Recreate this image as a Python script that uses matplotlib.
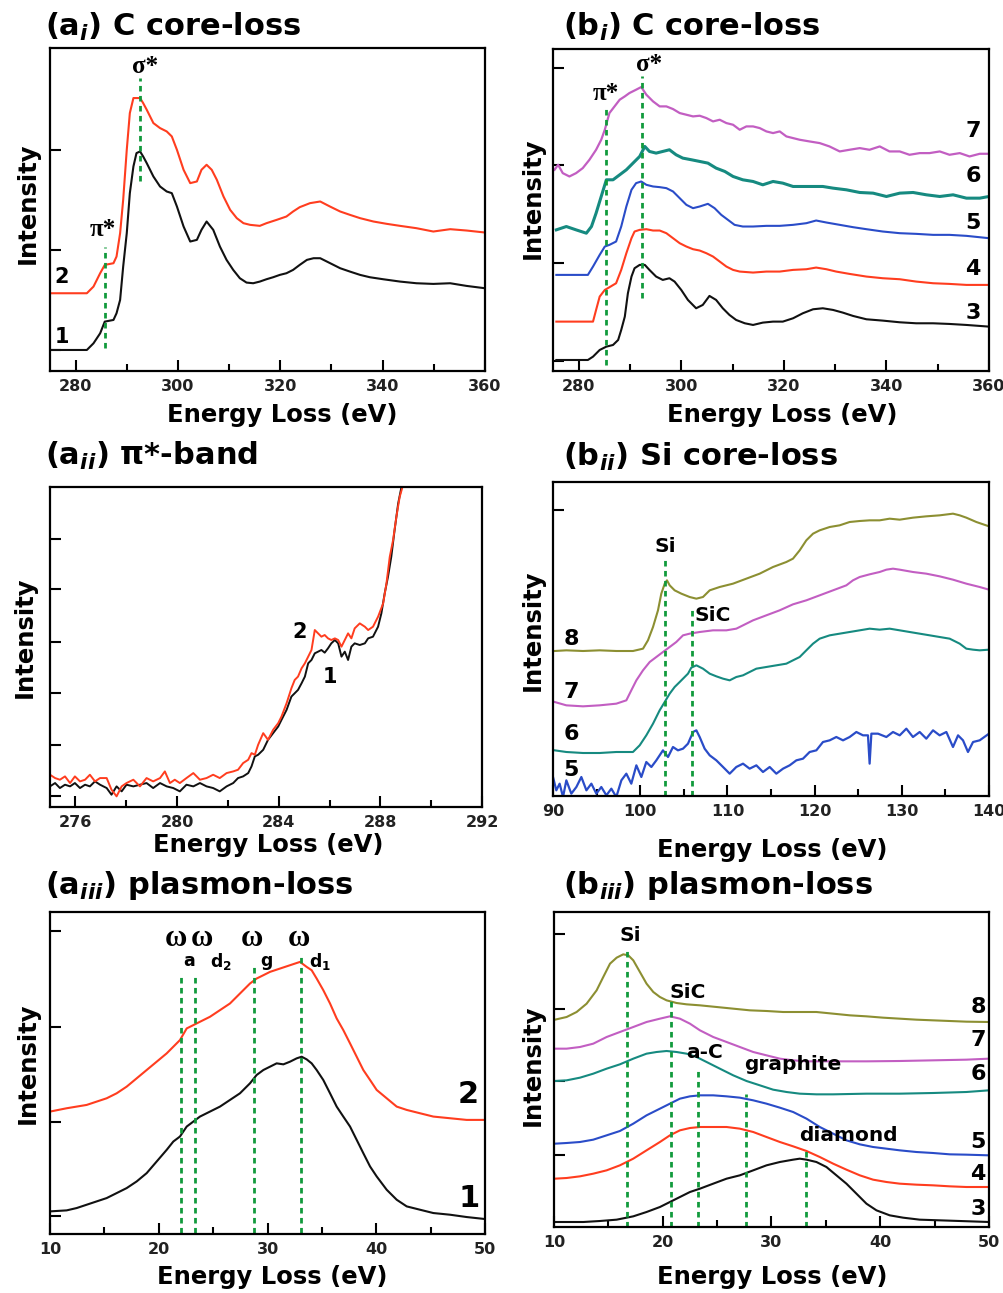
import matplotlib
matplotlib.use("Agg")
import matplotlib.pyplot as plt
from matplotlib.ticker import MultipleLocator, NullLocator

plt.rcParams['font.family'] = ['DejaVu Sans']
plt.rcParams['font.weight'] = 'bold'
plt.rcParams['mathtext.fontset'] = 'custom'
plt.rcParams['mathtext.rm'] = 'DejaVu Sans:bold'
plt.rcParams['mathtext.it'] = 'DejaVu Sans:italic:bold'
plt.rcParams['mathtext.bf'] = 'DejaVu Sans:bold'

# ---- (a_i) C core-loss, spectra 1 and 2 (energy in eV, intensity in a.u.)
E_ai_1 = [275.0, 282.2, 283.5, 284.8, 285.7, 287.4, 288.0, 288.7, 289.3, 290.0,
          290.6, 291.3, 291.9, 292.6, 293.2, 293.9, 295.2, 296.5, 297.8, 298.8,
          299.8, 301.1, 302.4, 303.7, 304.6, 305.6, 306.9, 308.2, 309.5, 310.8,
          312.1, 313.4, 314.7, 316.0, 317.3, 318.6, 319.9, 321.2, 322.5, 323.8,
          325.2, 326.5, 327.8, 329.1, 330.4, 331.7, 333.6, 335.6, 337.5, 340.1,
          343.4, 346.6, 349.9, 353.2, 356.4, 360.0]
I_ai_1 = [6.3, 6.3, 8.3, 11.3, 14.8, 15.3, 17.3, 21.3, 31.3, 41.3,
          53.3, 61.3, 65.3, 65.8, 64.3, 62.3, 58.3, 55.3, 53.8, 53.3,
          49.3, 43.3, 38.8, 39.3, 42.3, 44.8, 42.3, 37.3, 33.3, 30.3,
          27.8, 26.5, 26.3, 26.8, 27.5, 28.1, 28.8, 29.3, 30.3, 31.8,
          33.3, 33.8, 33.8, 32.8, 31.8, 30.8, 29.8, 28.8, 28.1, 27.5,
          26.8, 26.3, 26.1, 26.3, 25.5, 24.8]
E_ai_2 = [275.0, 282.2, 283.5, 284.8, 285.7, 287.4, 288.0, 288.7, 289.3, 290.0,
          290.6, 291.3, 292.6, 293.2, 293.9, 295.2, 296.5, 297.8, 298.8, 299.8,
          301.1, 302.4, 303.7, 304.6, 305.6, 306.6, 307.6, 308.9, 310.2, 311.5,
          312.8, 314.1, 316.0, 317.3, 319.3, 321.2, 322.5, 323.8, 325.8, 327.8,
          329.7, 331.7, 333.6, 335.6, 338.2, 340.8, 343.4, 346.6, 349.9, 353.2,
          356.4, 360.0]
I_ai_2 = [23.3, 23.3, 25.3, 29.3, 31.8, 32.3, 34.3, 41.3, 51.3, 66.3,
          77.3, 81.8, 81.8, 80.3, 78.3, 74.3, 72.8, 71.8, 70.3, 66.3,
          60.3, 56.3, 56.8, 60.3, 61.8, 60.3, 57.3, 52.3, 48.3, 45.8,
          44.3, 43.8, 43.5, 44.3, 45.3, 46.3, 47.8, 49.1, 50.3, 50.8,
          49.3, 47.8, 46.8, 45.8, 44.8, 44.1, 43.5, 42.8, 41.8, 42.5,
          42.1, 41.5]

# ---- (b_i) C core-loss, spectra 3-7
E_bi_3 = [275.65, 281.8, 282.8, 284.1, 285.4, 286.7, 287.7, 288.3, 289.0, 289.6,
          290.3, 290.9, 291.9, 292.9, 293.8, 295.1, 296.4, 297.7, 298.7, 300.0,
          301.3, 302.9, 304.2, 305.5, 306.8, 308.1, 309.4, 310.7, 312.4, 314.0,
          315.9, 317.9, 319.8, 321.8, 323.7, 325.7, 327.6, 329.6, 331.5, 333.5,
          336.1, 339.3, 342.6, 345.8, 349.1, 352.3, 355.6, 360.0]
I_bi_3 = [3.3, 3.3, 4.3, 6.3, 7.3, 7.8, 9.3, 12.3, 16.3, 23.3,
          28.3, 30.8, 31.8, 31.8, 30.3, 28.3, 27.3, 27.8, 26.8, 24.3,
          21.3, 18.8, 19.8, 22.5, 21.3, 18.8, 16.8, 15.3, 14.3, 13.8,
          14.5, 14.8, 14.8, 15.8, 17.3, 18.5, 18.8, 18.3, 17.5, 16.5,
          15.5, 15.1, 14.6, 14.3, 14.3, 14.1, 13.8, 13.3]
E_bi_4 = [275.65, 282.8, 283.4, 284.1, 285.1, 286.0, 287.3, 288.3, 289.3, 290.3,
          290.9, 291.9, 293.2, 294.5, 295.8, 297.1, 298.4, 299.7, 301.0, 302.3,
          303.6, 304.9, 306.2, 307.5, 308.8, 310.1, 311.4, 314.0, 316.6, 319.2,
          321.8, 324.4, 326.3, 328.3, 330.2, 332.8, 336.1, 339.3, 342.6, 345.8,
          349.1, 352.3, 355.6, 360.0]
I_bi_4 = [14.8, 14.8, 18.3, 22.3, 24.3, 25.1, 26.3, 30.3, 35.3, 39.8,
          41.8, 42.3, 42.5, 42.1, 42.1, 41.3, 39.8, 38.3, 37.3, 36.5,
          36.1, 35.3, 34.3, 32.8, 31.3, 30.3, 29.8, 29.5, 29.8, 29.8,
          30.3, 30.5, 31.0, 30.5, 29.8, 29.1, 28.3, 27.8, 27.5, 26.8,
          26.3, 26.1, 25.8, 25.8]
E_bi_5 = [275.65, 281.8, 282.8, 284.1, 285.1, 286.0, 287.3, 288.3, 289.3, 290.3,
          291.2, 292.2, 293.2, 294.5, 295.8, 297.1, 298.4, 299.7, 301.0, 302.3,
          303.6, 305.2, 306.5, 307.8, 309.1, 310.4, 312.0, 314.0, 316.6, 319.2,
          321.8, 324.4, 326.3, 328.3, 330.9, 333.5, 336.1, 339.3, 342.6, 345.8,
          349.1, 352.3, 355.6, 360.0]
I_bi_5 = [28.8, 28.8, 31.3, 34.8, 37.3, 37.8, 38.8, 43.3, 49.3, 54.3,
          56.3, 56.8, 55.8, 55.3, 55.1, 54.8, 53.8, 51.8, 49.8, 48.8,
          49.3, 50.1, 48.8, 46.8, 45.3, 43.8, 43.3, 43.3, 43.5, 43.5,
          43.8, 44.3, 45.1, 44.5, 43.8, 43.1, 42.5, 41.8, 41.3, 41.1,
          40.8, 40.8, 40.5, 39.8]
E_bi_6 = [275.65, 277.6, 279.5, 281.5, 282.5, 283.4, 284.4, 285.4, 286.7, 288.0,
          289.3, 290.6, 291.9, 292.9, 293.8, 295.1, 296.4, 297.7, 299.0, 300.3,
          302.0, 303.6, 305.2, 306.8, 308.5, 310.1, 312.0, 314.0, 315.9, 317.9,
          319.8, 321.8, 323.7, 325.7, 327.6, 329.6, 332.2, 334.8, 337.4, 340.0,
          342.6, 345.2, 347.8, 350.4, 353.0, 355.6, 358.2, 360.0]
I_bi_6 = [42.3, 43.3, 42.3, 41.3, 43.3, 47.3, 52.3, 57.3, 57.3, 58.8,
          60.3, 62.3, 64.3, 67.3, 65.8, 65.3, 65.8, 66.3, 64.8, 63.8,
          63.3, 62.8, 62.3, 60.8, 59.8, 58.3, 57.3, 56.8, 55.8, 56.8,
          56.3, 55.3, 55.3, 55.3, 55.3, 54.8, 54.3, 53.5, 53.3, 52.3,
          53.3, 53.5, 52.8, 52.3, 52.8, 51.8, 51.8, 52.3]
E_bi_7 = [275.3, 276.0, 276.9, 278.2, 279.5, 280.8, 282.1, 283.4, 284.4, 285.1,
          286.0, 287.0, 288.0, 289.0, 289.9, 291.2, 292.2, 293.2, 294.5, 295.8,
          297.1, 298.4, 299.7, 301.0, 302.3, 303.6, 304.9, 306.2, 307.5, 308.8,
          310.1, 311.4, 312.7, 314.0, 315.3, 316.6, 317.9, 319.2, 320.5, 321.8,
          323.1, 325.0, 327.0, 328.9, 330.9, 332.8, 334.8, 336.7, 338.7, 340.6,
          342.6, 344.5, 346.5, 348.4, 350.4, 352.3, 354.3, 356.2, 358.2, 360.0]
I_bi_7 = [60.3, 61.8, 59.3, 58.3, 59.3, 60.8, 63.3, 66.3, 69.3, 72.3,
          77.3, 79.3, 81.3, 82.3, 83.3, 84.3, 85.1, 82.8, 80.8, 79.3,
          79.3, 78.5, 77.3, 76.8, 76.3, 76.5, 75.8, 74.8, 75.3, 74.3,
          73.8, 72.3, 73.3, 73.3, 72.8, 71.8, 71.3, 71.8, 70.3, 69.8,
          69.3, 68.8, 68.3, 67.3, 65.8, 66.3, 66.8, 66.3, 67.3, 65.8,
          65.8, 64.8, 65.3, 65.3, 65.8, 64.8, 65.3, 64.3, 65.1, 65.1]

# ---- (a_ii) pi*-band, spectra 1 and 2
E_aii_1 = [275.00, 275.20, 275.39, 275.59, 275.79, 275.98, 276.18, 276.38, 276.57, 276.77,
           276.97, 277.23, 277.42, 277.62, 277.82, 278.01, 278.28, 278.54, 278.80, 279.06,
           279.33, 279.59, 279.85, 280.11, 280.37, 280.64, 280.90, 281.16, 281.42, 281.68,
           281.95, 282.21, 282.40, 282.60, 282.80, 282.93, 283.06, 283.19, 283.39, 283.58,
           283.78, 283.98, 284.11, 284.31, 284.50, 284.63, 284.76, 284.90, 285.03, 285.16,
           285.29, 285.42, 285.55, 285.68, 285.81, 285.94, 286.07, 286.21, 286.34, 286.47,
           286.60, 286.73, 286.86, 286.99, 287.19, 287.39, 287.52, 287.71, 287.91, 288.04,
           288.17, 288.30, 288.43, 288.56, 288.70, 288.83]
I_aii_1 = [6.2, 7.2, 5.7, 6.7, 6.2, 7.2, 5.7, 6.7, 6.2, 7.7,
           6.7, 5.7, 3.7, 6.2, 4.7, 6.7, 6.2, 6.7, 7.2, 5.7,
           7.2, 6.2, 5.7, 4.7, 6.7, 6.2, 7.2, 6.2, 5.7, 4.7,
           6.2, 7.2, 8.7, 9.2, 10.2, 12.2, 15.2, 15.7, 17.2, 20.2,
           22.2, 24.2, 26.2, 29.2, 33.2, 34.2, 35.2, 37.2, 39.2, 43.2,
           44.2, 46.2, 46.7, 47.2, 46.4, 47.7, 49.2, 50.2, 49.2, 45.2,
           46.7, 44.2, 48.2, 49.2, 48.7, 49.2, 50.7, 51.2, 54.2, 58.2,
           64.2, 69.2, 75.2, 83.2, 91.2, 96.2]
E_aii_2 = [275.00, 275.20, 275.39, 275.59, 275.79, 275.98, 276.18, 276.38, 276.57, 276.77,
           276.97, 277.23, 277.42, 277.62, 277.82, 278.01, 278.28, 278.54, 278.80, 279.06,
           279.33, 279.52, 279.72, 279.91, 280.11, 280.37, 280.64, 280.90, 281.16, 281.42,
           281.68, 281.95, 282.21, 282.40, 282.60, 282.80, 282.93, 283.06, 283.19, 283.39,
           283.58, 283.78, 283.98, 284.11, 284.31, 284.50, 284.63, 284.76, 284.90, 285.03,
           285.16, 285.29, 285.42, 285.55, 285.68, 285.81, 285.94, 286.07, 286.21, 286.34,
           286.47, 286.60, 286.73, 286.86, 286.99, 287.19, 287.39, 287.52, 287.71, 287.91,
           288.11, 288.24, 288.37, 288.50, 288.63, 288.76, 288.87]
I_aii_2 = [9.7, 8.7, 8.2, 9.2, 7.2, 9.2, 7.7, 8.2, 9.7, 7.7,
           8.7, 8.7, 5.2, 3.2, 6.2, 7.2, 8.2, 6.2, 8.7, 7.7,
           8.7, 10.7, 7.2, 8.2, 7.2, 8.7, 10.2, 8.2, 8.7, 9.7,
           8.7, 10.2, 10.7, 11.2, 13.2, 14.2, 16.2, 15.7, 18.7, 22.2,
           20.2, 23.2, 25.2, 27.2, 31.2, 35.7, 38.2, 39.2, 41.7, 43.2,
           45.2, 47.2, 53.2, 52.2, 51.2, 51.7, 50.7, 50.2, 50.7, 50.2,
           48.2, 50.2, 52.2, 50.7, 53.7, 55.2, 54.2, 53.2, 54.2, 57.2,
           61.2, 67.2, 75.2, 80.2, 87.2, 93.2, 96.2]

# ---- (b_ii) Si core-loss, spectra 5-8
E_bii_8 = [90.19, 91.53, 93.44, 95.35, 97.26, 99.17, 100.32, 100.89, 101.47, 102.04,
           102.42, 102.81, 103.07, 103.38, 103.95, 104.72, 105.67, 106.44, 107.20, 107.97,
           109.11, 110.64, 112.17, 113.70, 115.23, 116.76, 117.52, 118.29, 119.05, 119.82,
           120.58, 121.73, 122.87, 124.02, 125.17, 126.31, 127.46, 128.61, 129.76, 131.28,
           132.81, 134.34, 135.87, 136.64, 137.40, 138.55, 140.0]
I_bii_8 = [43.5, 43.7, 43.5, 43.7, 43.5, 43.5, 44.2, 46.7, 50.7, 55.7,
           60.7, 63.7, 64.7, 63.2, 61.7, 60.7, 59.7, 59.2, 59.7, 61.7,
           62.7, 63.7, 65.2, 66.7, 68.7, 70.2, 71.2, 73.7, 76.7, 78.7,
           79.7, 80.7, 81.2, 82.2, 82.5, 82.7, 82.7, 83.2, 82.9, 83.5,
           83.9, 84.2, 84.7, 84.2, 83.5, 82.2, 80.9]
E_bii_7 = [90.19, 91.53, 93.44, 95.35, 97.26, 98.41, 98.98, 99.56, 100.32, 101.09,
           101.85, 102.61, 103.38, 104.14, 104.91, 105.67, 106.82, 108.35, 109.88, 111.02,
           111.79, 112.94, 114.46, 115.99, 117.52, 119.05, 120.58, 122.11, 123.64, 124.40,
           125.17, 126.31, 127.46, 128.23, 128.99, 129.76, 131.28, 132.81, 134.34, 135.87,
           137.40, 138.93, 140.0]
I_bii_7 = [28.2, 27.2, 26.9, 27.2, 27.7, 28.7, 31.7, 34.7, 37.7, 40.2,
           41.7, 43.2, 44.7, 46.2, 48.2, 48.7, 49.2, 49.7, 49.7, 50.2,
           51.2, 52.7, 54.2, 55.7, 57.5, 58.7, 60.2, 61.7, 63.2, 64.7,
           65.7, 66.5, 67.2, 67.9, 68.2, 67.9, 67.2, 66.7, 65.9, 64.9,
           63.7, 62.7, 61.9]
E_bii_6 = [90.19, 91.53, 93.44, 95.35, 97.26, 99.17, 99.94, 100.70, 101.47, 102.23,
           102.81, 103.38, 103.95, 104.53, 105.10, 105.48, 105.86, 106.44, 107.20, 107.97,
           108.73, 109.50, 110.26, 111.02, 111.79, 112.55, 113.32, 114.46, 115.61, 116.76,
           117.52, 118.29, 119.05, 119.82, 120.58, 121.73, 122.87, 124.02, 125.17, 126.31,
           127.46, 128.61, 129.76, 130.90, 132.05, 133.20, 134.34, 135.49, 136.64, 137.40,
           138.17, 138.93, 140.0]
I_bii_6 = [13.7, 13.2, 12.9, 12.9, 13.2, 13.2, 15.2, 18.2, 21.7, 25.7,
           28.2, 30.7, 32.7, 34.2, 35.7, 36.7, 38.5, 39.2, 38.2, 36.7,
           35.9, 35.2, 34.7, 35.7, 36.2, 37.2, 38.2, 38.7, 39.2, 39.7,
           40.7, 41.7, 43.7, 45.7, 47.2, 48.2, 48.7, 49.2, 49.7, 50.2,
           49.9, 50.2, 49.7, 49.2, 48.7, 48.2, 47.7, 47.2, 45.7, 44.2,
           43.9, 43.7, 43.9]
E_bii_5 = [90.00, 90.38, 90.76, 91.15, 91.53, 92.10, 92.68, 93.25, 93.83, 94.40,
           94.97, 95.54, 96.12, 96.69, 97.26, 97.84, 98.41, 98.98, 99.56, 100.13,
           100.70, 101.28, 101.85, 102.61, 103.19, 103.76, 104.33, 104.91, 105.48, 106.06,
           106.44, 106.82, 107.39, 107.97, 108.73, 109.50, 110.26, 111.02, 111.79, 112.55,
           113.32, 114.08, 114.85, 115.61, 116.38, 117.14, 117.91, 118.67, 119.43, 120.20,
           120.96, 121.73, 122.49, 123.26, 124.02, 124.79, 125.55, 126.12, 126.31, 126.51,
           127.27, 128.23, 128.99, 129.76, 130.52, 131.28, 132.05, 132.81, 133.58, 134.34,
           135.11, 135.87, 136.45, 137.02, 137.59, 138.17, 138.93, 140.00]
I_bii_5 = [5.7, 1.7, 3.7, -0.3, 4.7, 0.7, 2.7, 5.7, 1.7, 3.7,
           0.7, 2.7, 0.2, 2.2, -0.3, 4.7, 6.7, 3.7, 9.2, 5.7,
           10.2, 8.7, 10.7, 13.7, 11.7, 14.7, 13.7, 14.2, 15.7, 19.2,
           19.7, 17.7, 14.2, 12.2, 10.7, 8.7, 6.7, 8.7, 9.7, 8.2,
           9.2, 7.2, 8.7, 6.7, 8.2, 9.2, 10.7, 11.2, 13.2, 13.7,
           16.2, 16.7, 17.7, 16.7, 17.7, 19.2, 18.2, 18.2, 9.7, 18.7,
           18.7, 17.7, 19.2, 18.2, 20.2, 17.7, 19.2, 17.2, 19.7, 18.2,
           19.2, 14.7, 18.2, 16.7, 13.2, 16.2, 16.7, 18.7]

# ---- (a_iii) plasmon-loss, spectra 1 and 2
E_aiii_1 = [10.00, 11.53, 12.45, 13.37, 14.29, 15.21, 16.13, 17.05, 17.97, 18.89,
            19.81, 20.73, 21.34, 21.95, 22.57, 23.18, 23.79, 24.71, 25.63, 26.55,
            27.47, 28.39, 29.00, 29.62, 30.23, 30.84, 31.46, 32.07, 32.68, 33.14,
            33.60, 34.06, 34.52, 35.13, 35.75, 36.36, 36.97, 37.59, 38.20, 38.81,
            39.43, 40.04, 40.96, 41.88, 42.80, 44.02, 45.25, 46.78, 48.31, 50.00]
I_aiii_1 = [6.8, 7.1, 7.8, 8.8, 9.8, 10.8, 12.3, 13.8, 15.8, 18.3,
            21.8, 25.3, 27.8, 29.3, 32.3, 33.8, 35.3, 36.8, 38.3, 40.3,
            42.3, 45.3, 47.8, 49.3, 50.3, 51.3, 51.0, 51.8, 52.8, 53.3,
            52.5, 51.3, 49.3, 46.3, 42.3, 38.3, 35.3, 32.3, 28.3, 24.3,
            20.3, 17.3, 13.3, 10.3, 8.3, 7.3, 6.3, 5.8, 5.1, 4.5]
E_aiii_2 = [10.00, 11.53, 12.45, 13.37, 14.29, 15.21, 16.13, 17.05, 17.97, 18.89,
            19.81, 20.73, 21.34, 21.95, 22.57, 23.18, 23.79, 24.71, 25.63, 26.55,
            27.47, 28.39, 29.00, 29.62, 30.23, 31.15, 32.07, 32.99, 33.60, 34.06,
            34.52, 35.13, 35.75, 36.36, 36.97, 37.59, 38.20, 38.81, 39.43, 40.04,
            40.96, 41.88, 42.80, 44.02, 45.25, 46.78, 48.31, 50.00]
I_aiii_2 = [36.8, 37.8, 38.3, 38.8, 39.8, 40.8, 42.3, 44.3, 46.8, 49.3,
            51.8, 54.3, 56.3, 58.3, 61.8, 62.8, 63.8, 65.3, 67.3, 69.3,
            72.3, 75.3, 76.8, 77.8, 78.8, 79.8, 80.8, 81.8, 80.3, 79.3,
            76.8, 73.3, 69.3, 64.8, 61.3, 57.3, 53.3, 49.3, 46.3, 43.3,
            40.8, 38.3, 37.3, 36.3, 35.3, 34.8, 34.3, 34.3]

# ---- (b_iii) plasmon-loss, spectra 3-8
E_biii_8 = [10.09, 11.16, 12.08, 13.00, 13.92, 14.53, 15.15, 15.76, 16.37, 16.83,
            17.29, 17.90, 18.51, 19.13, 19.74, 20.35, 21.27, 22.19, 23.42, 24.95,
            26.48, 28.01, 29.54, 31.07, 32.60, 34.13, 35.67, 37.20, 38.73, 40.26,
            41.79, 43.32, 44.85, 46.39, 47.92, 50.00]
I_biii_8 = [62.2, 63.0, 64.5, 67.0, 71.0, 75.0, 79.0, 80.8, 81.8, 81.5,
            80.0, 76.5, 73.0, 70.5, 69.0, 68.0, 67.2, 66.8, 66.5, 66.0,
            65.5, 65.0, 64.8, 64.5, 64.5, 64.5, 64.0, 63.5, 63.2, 62.8,
            62.5, 62.2, 62.0, 61.8, 61.6, 61.5]
E_biii_7 = [10.09, 11.16, 12.39, 13.61, 14.84, 16.06, 17.29, 18.51, 19.74, 20.66,
            21.58, 22.50, 23.42, 24.64, 25.87, 27.09, 28.32, 29.54, 30.77, 31.99,
            33.22, 34.44, 35.67, 38.73, 41.79, 44.85, 47.92, 50.00]
I_biii_7 = [53.5, 53.5, 54.0, 55.0, 57.0, 58.5, 60.0, 61.5, 62.5, 63.2,
            62.5, 61.0, 59.0, 57.0, 55.5, 54.0, 52.5, 51.5, 50.5, 50.0,
            49.7, 49.7, 49.7, 49.7, 49.8, 50.0, 50.2, 50.5]
E_biii_6 = [10.09, 11.16, 12.39, 13.61, 14.84, 16.06, 17.29, 18.51, 19.43, 20.35,
            21.27, 22.19, 23.11, 24.03, 25.25, 26.48, 27.70, 28.93, 30.15, 31.38,
            32.60, 34.13, 35.67, 38.73, 41.79, 44.85, 47.92, 50.00]
I_biii_6 = [43.8, 44.0, 44.8, 46.0, 47.5, 48.8, 50.5, 52.0, 52.5, 52.8,
            52.5, 52.0, 51.0, 49.5, 47.5, 45.5, 43.8, 42.5, 41.2, 40.5,
            40.0, 39.8, 39.8, 40.0, 40.0, 40.2, 40.5, 41.0]
E_biii_5 = [10.09, 11.16, 12.39, 13.61, 14.84, 16.06, 17.29, 18.51, 19.74, 20.66,
            21.58, 22.50, 23.42, 24.64, 25.87, 27.09, 28.32, 29.54, 30.77, 31.99,
            33.22, 34.44, 35.67, 36.89, 38.12, 39.34, 40.57, 41.79, 43.32, 44.85,
            46.39, 47.92, 50.00]
I_biii_5 = [25.0, 25.2, 25.5, 26.2, 27.5, 28.8, 31.0, 33.5, 35.5, 37.0,
            38.5, 39.2, 39.5, 39.5, 39.2, 38.8, 38.0, 37.0, 35.8, 34.5,
            32.5, 30.0, 28.0, 26.0, 24.8, 24.0, 23.5, 23.0, 22.5, 22.2,
            21.8, 21.7, 21.5]
E_biii_4 = E_biii_5
I_biii_4 = [14.5, 14.7, 15.2, 16.0, 17.0, 18.5, 20.5, 23.0, 25.5, 27.5,
            29.0, 29.7, 30.0, 30.0, 30.0, 29.5, 28.5, 27.0, 25.5, 24.2,
            22.8, 21.0, 19.0, 17.2, 15.5, 14.2, 13.5, 13.0, 12.7, 12.5,
            12.2, 12.0, 12.0]
E_biii_3 = [10.09, 12.70, 14.23, 15.76, 17.29, 18.51, 19.74, 20.66, 21.58, 22.50,
            23.42, 24.64, 25.87, 27.09, 28.32, 29.54, 30.77, 31.99, 32.60, 33.22,
            34.13, 35.05, 35.97, 36.89, 37.81, 38.73, 39.65, 40.87, 42.10, 43.63,
            45.47, 47.31, 50.00]
I_biii_3 = [1.5, 1.5, 1.8, 2.2, 3.2, 4.5, 6.0, 7.5, 9.0, 10.5,
            11.5, 13.0, 14.5, 15.5, 17.0, 18.5, 19.5, 20.2, 20.5, 20.2,
            19.5, 18.0, 15.5, 13.0, 10.0, 7.0, 5.0, 3.5, 2.8, 2.2,
            2.0, 1.8, 1.5]

# peak marker lines: energy, top of line
mark_ai = [285.7, 292.5]
mark_ai_top = [37.3, 87.8]
mark_ai_bot = [6.8, 56.8]
mark_bi = [285.4, 292.4]
mark_bi_top = [79.3, 88.3]
mark_bi_bot = [1.8, 21.8]
mark_bii = [102.8, 105.9]
mark_bii_top = [70.7, 55.7]
mark_aiii = [22.0, 23.3, 28.8, 33.05]
mark_aiii_top = [77.8, 77.8, 80.3, 83.8]
mark_biii = [16.7, 20.75, 23.26, 27.7, 33.2]
mark_biii_top = [83.5, 68.0, 47.0, 40.0, 23.5]

BLACK = '#111111'
RED = '#ff3d1f'
BLUE = '#2a4cc8'
TEAL = '#168a80'
MAGENTA = '#c25ec2'
OLIVE = '#8c8f32'
GREEN = '#129a3c'

W, H = 1004, 1293
fig = plt.figure(figsize=(W / 100, H / 100), dpi=100)


def panel(x0, x1, y0, y1):
    return fig.add_axes([x0 / W, 1 - y1 / H, (x1 - x0) / W, (y1 - y0) / H])


def style(ax, xlim, ylim, major, minor, yticks):
    ax.set_xlim(*xlim)
    ax.set_ylim(*ylim)
    ax.xaxis.set_major_locator(MultipleLocator(major))
    ax.xaxis.set_minor_locator(MultipleLocator(minor))
    ax.set_yticks(yticks)
    ax.set_yticklabels([])
    ax.yaxis.set_minor_locator(NullLocator())
    ax.tick_params(which='both', direction='in', top=False, right=False)
    ax.tick_params(which='major', length=8, width=1.5)
    ax.tick_params(which='minor', length=5, width=1.5)
    ax.tick_params(axis='x', labelsize=11.5, pad=6, labelcolor='#222222')
    for s in ax.spines.values():
        s.set_linewidth(1.6)


def ftext(x, y, s, **kw):
    fig.text(x / W, 1 - y / H, s, **kw)


def frame_text(title, tx, ty, xlx, xly, ylx, yly):
    ftext(tx, ty, title, fontsize=22, ha='left', va='center')
    ftext(xlx, xly, 'Energy Loss (eV)', fontsize=17.5, ha='center', va='center')
    ftext(ylx, yly, 'Intensity', fontsize=17.5, ha='center', va='center', rotation=90)


greek = dict(family='Liberation Serif', fontweight='bold')
dots = dict(color=GREEN, lw=2, linestyle=(0, (2, 1.6)))

# (a_i)
ax = panel(50, 485, 48, 371)
ax.plot(E_ai_1, I_ai_1, color=BLACK, lw=1.5)
ax.plot(E_ai_2, I_ai_2, color=RED, lw=1.5)
ax.vlines(mark_ai, mark_ai_bot, mark_ai_top, **dots)
ax.text(285.4, 42.3, 'π*', fontsize=18, ha='center', va='center', **greek)
ax.text(293.6, 91.3, 'σ*', fontsize=18, ha='center', va='center', **greek)
ax.text(277.3, 28.3, '2', fontsize=15, ha='center', va='center')
ax.text(277.3, 10.3, '1', fontsize=15, ha='center', va='center')
style(ax, (275, 360), (0, 96.8), 20, 10, [6.3, 36.3, 66.3])
frame_text(r'(a$_{i}$) C core-loss', 45, 27, 282, 415, 28, 203)

# (b_i)
ax = panel(553, 989, 49, 371)
ax.plot(E_bi_3, I_bi_3, color=BLACK, lw=1.5)
ax.plot(E_bi_4, I_bi_4, color=RED, lw=1.5)
ax.plot(E_bi_5, I_bi_5, color=BLUE, lw=1.5)
ax.plot(E_bi_6, I_bi_6, color=TEAL, lw=2.2)
ax.plot(E_bi_7, I_bi_7, color=MAGENTA, lw=1.6)
ax.vlines(mark_bi, mark_bi_bot, mark_bi_top, **dots)
ax.text(285.3, 83.3, 'π*', fontsize=18, ha='center', va='center', **greek)
ax.text(293.7, 91.8, 'σ*', fontsize=18, ha='center', va='center', **greek)
for lab, yy in zip(['7', '6', '5', '4', '3'], [71.8, 58.3, 44.5, 30.5, 17.3]):
    ax.text(356.9, yy, lab, fontsize=16, ha='center', va='center')
style(ax, (275, 360), (0, 96.5), 20, 10, [3.1, 32.3, 61.6, 90.8])
frame_text(r'(b$_{i}$) C core-loss', 563, 27, 782, 415, 533, 198)

# (a_ii)
ax = panel(50, 482, 487, 807)
ax.plot(E_aii_1, I_aii_1, color=BLACK, lw=1.4)
ax.plot(E_aii_2, I_aii_2, color=RED, lw=1.4)
ax.text(284.83, 52.7, '2', fontsize=15, ha='center', va='center')
ax.text(286.0, 39.2, '1', fontsize=15, ha='center', va='center')
style(ax, (275, 292), (0, 96.2), 4, 2, [3.2, 18.7, 34.2, 49.7, 65.4, 80.7])
frame_text(r'(a$_{ii}$) π*-band', 45, 456, 268, 845, 25, 637)

# (b_ii)
ax = panel(553, 989, 482, 796)
ax.plot(E_bii_5, I_bii_5, color=BLUE, lw=1.6)
ax.plot(E_bii_6, I_bii_6, color=TEAL, lw=1.5)
ax.plot(E_bii_7, I_bii_7, color=MAGENTA, lw=1.5)
ax.plot(E_bii_8, I_bii_8, color=OLIVE, lw=1.5)
ax.vlines(mark_bii, 0, mark_bii_top, **dots)
ax.text(102.9, 74.7, 'Si', fontsize=14.5, ha='center', va='center')
ax.text(106.2, 54.2, 'SiC', fontsize=14.5, ha='left', va='center')
for lab, yy in zip(['8', '7', '6', '5'], [47.2, 31.2, 18.7, 7.7]):
    ax.text(92.1, yy, lab, fontsize=16, ha='center', va='center')
style(ax, (90, 140), (0, 94.2), 10, 5, [85.9])
frame_text(r'(b$_{ii}$) Si core-loss', 563, 457, 772, 850, 533, 630)

# (a_iii)
ax = panel(50, 485, 912, 1234)
ax.plot(E_aiii_1, I_aiii_1, color=BLACK, lw=1.5)
ax.plot(E_aiii_2, I_aiii_2, color=RED, lw=1.5)
ax.vlines(mark_aiii, 0.3, mark_aiii_top, **dots)
for xo, xs, sub in [(21.55, 22.75, 'a'), (24.0, 25.75, r'd$_2$'),
                    (28.6, 29.9, 'g'), (32.9, 34.8, r'd$_1$')]:
    ax.text(xo, 88.8, 'ω', fontsize=22, ha='center', va='center', **greek)
    ax.text(xs, 82.0, sub, fontsize=12.5, ha='center', va='center')
ax.text(48.5, 41.8, '2', fontsize=22, ha='center', va='center')
ax.text(48.5, 10.8, '1', fontsize=22, ha='center', va='center')
style(ax, (10, 50), (0, 96.8), 10, 5, [5.3, 33.8, 62.3, 91.1])
frame_text(r'(a$_{iii}$) plasmon-loss', 45, 885, 272, 1277, 28, 1063)

# (b_iii)
ax = panel(554, 989, 912, 1227)
ax.plot(E_biii_3, I_biii_3, color=BLACK, lw=1.5)
ax.plot(E_biii_4, I_biii_4, color=RED, lw=1.5)
ax.plot(E_biii_5, I_biii_5, color=BLUE, lw=1.5)
ax.plot(E_biii_6, I_biii_6, color=TEAL, lw=1.5)
ax.plot(E_biii_7, I_biii_7, color=MAGENTA, lw=1.5)
ax.plot(E_biii_8, I_biii_8, color=OLIVE, lw=1.5)
ax.vlines(mark_biii, 0, mark_biii_top, **dots)
for lab, xx, yy in [('Si', 17.0, 87.5), ('SiC', 22.25, 70.5), ('a-C', 23.8, 52.5),
                    ('graphite', 32.0, 48.8), ('diamond', 37.05, 27.5)]:
    ax.text(xx, yy, lab, fontsize=14.5, ha='center', va='center')
for lab, yy in zip(['8', '7', '6', '5', '4', '3'], [66, 56, 46, 25.5, 16, 5.5]):
    ax.text(49.0, yy, lab, fontsize=16, ha='center', va='center')
style(ax, (10, 50), (0, 94.5), 10, 5, [21.5, 43.8, 65.5, 87.8])
frame_text(r'(b$_{iii}$) plasmon-loss', 563, 886, 772, 1277, 533, 1065)

fig.savefig('out.png', dpi=100)
